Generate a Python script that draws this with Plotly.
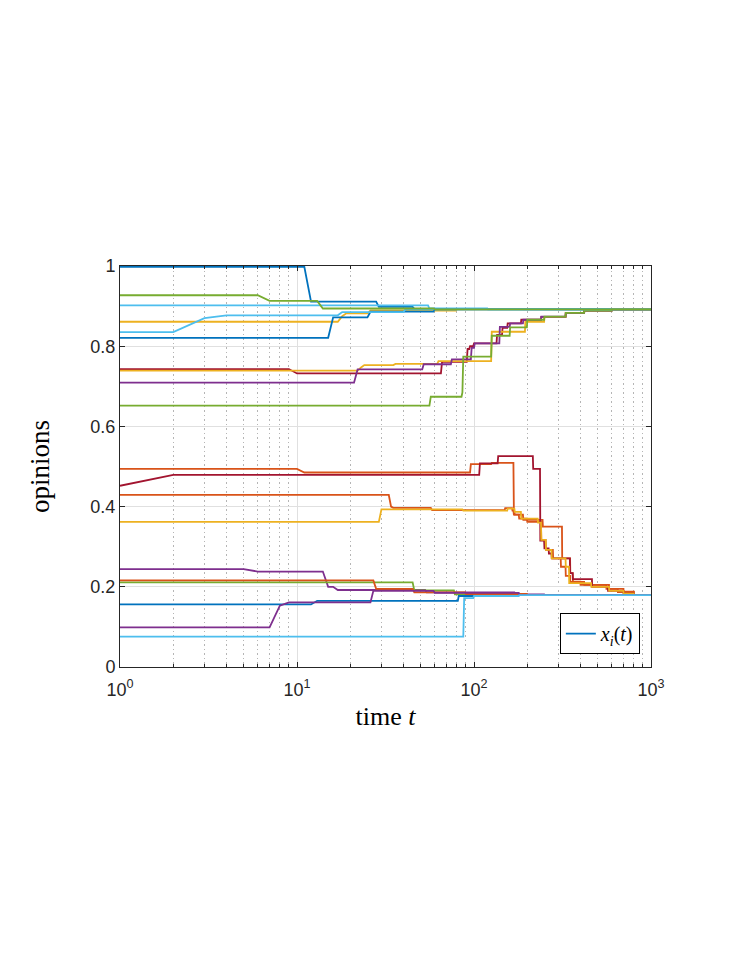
import plotly.graph_objects as go

# MATLAB default line colours
BLUE = "#0072BD"
ORANGE = "#D95319"
YELLOW = "#EDB120"
PURPLE = "#7E2F8E"
GREEN = "#77AC30"
LBLUE = "#4DBEEE"
DRED = "#A2142F"

T_END = 1000

# each agent: times at which its opinion changes, and the opinion held from then on
t01 = [1, 12, 29, 46, 200]
x01 = [0.998, 0.911, 0.898, 0.893, 0.892]
t02 = [1, 11, 96, 126, 168, 170, 190, 245, 315, 350, 362, 400, 580, 700, 800]
x02 = [0.494, 0.485, 0.506, 0.509, 0.387, 0.380, 0.367, 0.350, 0.271, 0.234, 0.213, 0.205, 0.195, 0.188, 0.179]
t03 = [1, 18, 19, 26, 80]
x03 = [0.861, 0.875, 0.882, 0.889, 0.892]
t04 = [1, 6, 15, 17, 54, 170, 250]
x04 = [0.244, 0.238, 0.200, 0.192, 0.186, 0.181, 0.179]
t05 = [1, 46, 78, 150]
x05 = [0.211, 0.191, 0.181, 0.179]
t06 = [1, 56, 120]
x06 = [0.902, 0.894, 0.892]
t07 = [1, 10, 66, 92, 95, 100, 135, 145, 155, 185, 240, 330, 420, 600]
x07 = [0.743, 0.732, 0.761, 0.793, 0.800, 0.807, 0.828, 0.846, 0.857, 0.866, 0.873, 0.883, 0.889, 0.892]
t08 = [1, 16, 26, 60]
x08 = [0.821, 0.872, 0.886, 0.892]
t09 = [1, 34, 35, 58, 150, 165, 168, 180, 200, 240, 255, 280, 310, 330, 350, 420, 560, 650, 800]
x09 = [0.429, 0.400, 0.397, 0.391, 0.396, 0.390, 0.380, 0.370, 0.362, 0.317, 0.292, 0.271, 0.250, 0.227, 0.212, 0.205, 0.195, 0.187, 0.179]
t10 = [1, 23, 24, 36, 63, 126, 195, 250, 330, 420, 600]
x10 = [0.739, 0.747, 0.753, 0.756, 0.763, 0.836, 0.861, 0.873, 0.883, 0.889, 0.892]
t11 = [1, 22, 52, 75, 97, 101, 140, 160, 190, 240, 330, 420, 600]
x11 = [0.709, 0.742, 0.755, 0.767, 0.796, 0.807, 0.848, 0.857, 0.866, 0.874, 0.883, 0.889, 0.892]
t12 = [1, 57, 86, 87, 126, 160, 200, 250, 330, 420, 600]
x12 = [0.652, 0.674, 0.685, 0.774, 0.826, 0.847, 0.866, 0.874, 0.883, 0.889, 0.892]
t13 = [1, 3, 4, 18, 41]
x13 = [0.835, 0.870, 0.877, 0.885, 0.892]
t14 = [1, 2, 108, 137, 216, 237, 250, 265, 275, 349, 362, 465, 572, 700, 800]
x14 = [0.452, 0.479, 0.508, 0.526, 0.494, 0.315, 0.296, 0.283, 0.271, 0.234, 0.219, 0.200, 0.190, 0.183, 0.179]
t15 = [1, 13, 82, 150]
x15 = [0.156, 0.165, 0.177, 0.179]
t16 = [1, 28, 46, 90, 200]
x16 = [0.216, 0.195, 0.186, 0.182, 0.179]
t17 = [1, 30, 87, 155, 170, 185, 230, 240, 255, 275, 330, 345, 460, 580, 700, 800]
x17 = [0.362, 0.393, 0.390, 0.395, 0.387, 0.370, 0.360, 0.317, 0.292, 0.271, 0.250, 0.209, 0.200, 0.190, 0.183, 0.179]
t18 = [1, 8, 9, 27, 60, 180]
x18 = [0.099, 0.153, 0.161, 0.190, 0.185, 0.179]
t19 = [1, 7, 14, 60]
x19 = [0.927, 0.913, 0.894, 0.892]
t20 = [1, 88, 100, 180]
x20 = [0.0756, 0.172, 0.177, 0.179]

agents = [
    (t01, x01, BLUE), (t02, x02, ORANGE), (t03, x03, YELLOW), (t04, x04, PURPLE),
    (t05, x05, GREEN), (t06, x06, LBLUE), (t07, x07, DRED), (t08, x08, BLUE),
    (t09, x09, ORANGE), (t10, x10, YELLOW), (t11, x11, PURPLE), (t12, x12, GREEN),
    (t13, x13, LBLUE), (t14, x14, DRED), (t15, x15, BLUE), (t16, x16, ORANGE),
    (t17, x17, YELLOW), (t18, x18, PURPLE), (t19, x19, GREEN), (t20, x20, LBLUE),
]


def stepped(ts, xs):
    # value is held until one time step before each change (sampled at integer t)
    tt, xx = [ts[0]], [xs[0]]
    for k in range(1, len(ts)):
        if ts[k] - 1 > tt[-1]:
            tt.append(ts[k] - 1)
            xx.append(xs[k - 1])
        tt.append(ts[k])
        xx.append(xs[k])
    tt.append(T_END)
    xx.append(xs[-1])
    return tt, xx


fig = go.Figure()
for i, (ts, xs, col) in enumerate(agents):
    tt, xx = stepped(ts, xs)
    fig.add_trace(go.Scatter(
        x=tt, y=xx, mode="lines", line=dict(color=col, width=1.8),
        name="<i>x<sub>i</sub></i>(<i>t</i>)", showlegend=(i == 0),
    ))

axis_col = "#262626"
minor_vals = [m * 10 ** d for d in range(3) for m in range(2, 10)]

# page body has an 8px margin, so the figure is a bit smaller than the window
fig.update_layout(
    width=739, height=959,
    margin=dict(l=112, r=96, t=258, b=300),
    paper_bgcolor="white", plot_bgcolor="white",
    font=dict(family="Liberation Sans, Arial, sans-serif", size=18, color=axis_col),
    legend=dict(
        x=0.979, y=0.032, xanchor="right", yanchor="bottom",
        bordercolor="black", borderwidth=1, bgcolor="white",
        font=dict(family="Liberation Serif, serif", size=20, color="black"),
    ),
)
fig.update_xaxes(
    type="log", range=[0, 3],
    tickvals=[1, 10, 100, 1000],
    ticktext=["10<sup>0</sup>", "10<sup>1</sup>", "10<sup>2</sup>", "10<sup>3</sup>"],
    ticks="inside", ticklen=5, tickcolor=axis_col, ticklabelstandoff=6,
    showline=True, linecolor=axis_col, linewidth=1, mirror="allticks",
    showgrid=True, gridcolor="#e0e0e0", gridwidth=1, zeroline=False,
    minor=dict(tickvals=minor_vals, ticks="inside", ticklen=3, tickcolor=axis_col,
               showgrid=True, gridcolor="#b5b5b5", griddash="1.5px,3px", gridwidth=1),
    title=dict(text="time <i>t</i>", standoff=8,
               font=dict(family="Liberation Serif, serif", size=26, color="black")),
)
fig.update_yaxes(
    range=[0, 1],
    tickvals=[0, 0.2, 0.4, 0.6, 0.8, 1],
    ticktext=["0", "0.2", "0.4", "0.6", "0.8", "1"],
    ticks="inside", ticklen=5, tickcolor=axis_col,
    showline=True, linecolor=axis_col, linewidth=1, mirror="allticks",
    showgrid=True, gridcolor="#e0e0e0", gridwidth=1, zeroline=False,
    title=dict(text="opinions", standoff=32,
               font=dict(family="Liberation Serif, serif", size=27, color="black")),
)

fig.write_html("out.html")
